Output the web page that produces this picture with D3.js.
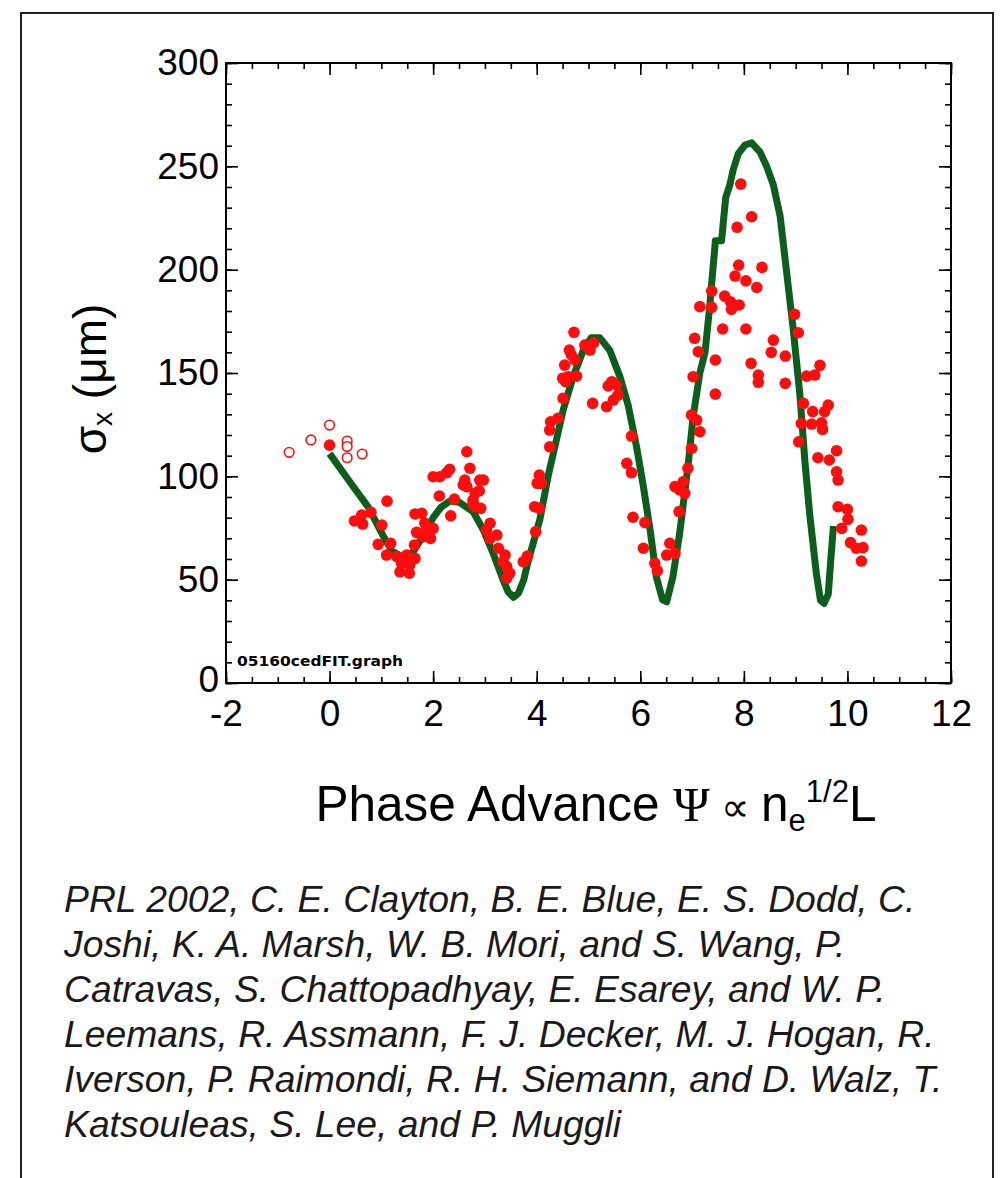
<!DOCTYPE html>
<html>
<head>
<meta charset="utf-8">
<script src="https://cdn.jsdelivr.net/npm/d3@7/dist/d3.min.js"></script>
<style>
  html, body { margin: 0; padding: 0; background: #fff; }
  svg { display: block; }
</style>
</head>
<body>
<script>
// Tick values
const xTicks = [-2, 0, 2, 4, 6, 8, 10, 12];
const yTicks = [0, 50, 100, 150, 200, 250, 300];

// Early shots drawn as open circles (Ψ, σx in µm)
const openPoints = [
  [-0.78, 111.6], [-0.36, 117.6], [0.0, 124.8], [0.34, 117.1],
  [0.34, 114.4], [0.34, 109.0], [0.63, 110.8]
];

// Measured spot size (Ψ, σx in µm)
const measuredPoints = [
  [0, 115.1], [2.65, 111.9], [1.11, 88.0], [0.80, 82.6], [0.62, 81.3], [0.48, 78.4],
  [0.64, 76.9], [1.01, 76.4], [0.94, 67.1], [1.18, 67.6], [1.10, 61.9], [1.30, 61.1],
  [1.49, 61.9], [1.65, 60.3], [1.39, 57.9], [1.55, 57.1], [1.36, 53.8], [1.54, 53.1],
  [1.65, 81.8], [1.78, 82.1], [1.68, 72.9], [1.84, 77.3], [1.87, 74.0], [2.0, 74.8],
  [1.81, 70.8], [1.95, 70.0], [1.64, 66.8], [2.0, 99.8], [2.13, 99.8], [2.26, 101.7],
  [2.32, 103.4], [2.12, 90.5], [2.41, 89.0], [2.34, 80.9], [2.61, 98.2], [2.65, 95.0],
  [2.71, 103.9], [2.81, 91.8], [2.77, 86.9], [2.90, 98.2], [2.58, 95.8], [2.97, 98.2],
  [2.89, 93.0], [2.77, 88.5], [2.81, 85.3], [2.92, 84.5], [3.10, 77.3], [3.03, 74.0],
  [3.23, 71.6], [3.10, 70.0], [3.26, 65.2], [3.39, 61.9], [3.35, 58.7], [3.42, 56.3],
  [3.48, 53.1], [3.42, 50.7], [3.74, 58.7], [3.82, 61.4], [3.98, 73.2], [3.96, 85.3],
  [4.05, 84.5], [4.05, 100.6], [4.01, 96.6], [4.09, 96.6], [4.25, 114.3], [4.25, 122.4],
  [4.27, 126.4], [4.41, 128.1], [4.51, 137.7], [4.50, 147.4], [4.56, 145.8], [4.61, 148.2],
  [4.77, 148.5], [4.54, 153.8], [4.63, 161.1], [4.67, 158.7], [4.74, 156.3], [4.72, 169.7],
  [4.93, 163.5], [5.03, 161.1], [5.10, 164.6], [5.08, 135.3], [5.35, 133.7], [5.45, 145.8],
  [5.38, 143.7], [5.54, 144.2], [5.57, 139.3], [5.48, 136.9], [5.83, 119.5], [5.74, 106.3],
  [5.83, 101.7], [5.86, 80.2], [6.09, 77.6], [6.06, 65.2], [6.28, 57.9], [6.33, 54.3],
  [6.57, 67.6], [6.51, 61.9], [6.67, 62.7], [6.75, 82.9], [6.67, 95.0], [6.83, 97.4],
  [6.86, 91.8], [6.76, 93.4], [6.92, 103.9], [6.99, 113.5], [6.99, 129.7], [7.02, 148.2],
  [7.05, 166.8], [7.12, 160.3], [7.09, 127.2], [7.15, 182.1], [7.15, 121.6],
  [7.94, 241.4], [8.15, 225.6], [7.87, 220.5], [7.90, 202.2], [8.35, 201.1], [7.83, 196.9],
  [8.04, 194.6], [8.25, 191.4], [7.38, 189.6], [7.63, 187.2], [7.74, 184.5], [7.91, 182.9],
  [7.76, 180.8], [7.38, 181.8], [8.98, 178.4], [7.59, 171.3], [8.04, 171.3], [9.05, 169.5],
  [8.57, 165.9], [8.53, 160.0], [7.45, 156.3], [8.80, 158.2], [8.14, 154.7], [8.28, 149.0],
  [8.28, 145.5], [8.80, 145.0], [9.47, 153.7], [9.21, 148.5], [9.37, 149.0], [7.45, 139.8],
  [9.15, 135.3], [9.33, 131.3], [9.63, 134.5], [9.56, 131.3], [9.11, 125.6], [9.31, 125.3],
  [9.50, 125.9], [9.52, 122.7], [9.06, 116.7], [9.43, 109.0], [9.65, 107.9], [9.79, 112.4],
  [9.79, 102.2], [9.82, 98.2], [9.82, 85.3], [10.00, 84.0], [10.01, 79.2], [9.89, 74.8],
  [10.27, 74.0], [10.06, 67.9], [10.30, 65.5], [10.17, 65.2], [10.27, 59.0]
];

// Envelope model fit (Ψ, σx in µm)
const fitCurve = [
  [0, 111], [0.4, 97], [0.75, 85], [1.04, 71], [1.2, 64], [1.4, 61], [1.6, 63], [1.8, 71],
  [2.0, 80], [2.15, 85], [2.32, 88], [2.5, 87.5], [2.77, 83], [2.97, 74], [3.16, 62.7],
  [3.35, 50], [3.45, 44], [3.55, 41.5], [3.65, 43.5], [3.75, 50], [3.84, 59.5], [4.06, 79],
  [4.22, 100], [4.38, 117.6], [4.51, 132], [4.70, 148], [4.90, 161], [5.05, 167], [5.22, 167],
  [5.41, 161], [5.61, 148], [5.77, 134], [5.93, 114], [6.06, 95], [6.19, 74], [6.31, 51.4],
  [6.43, 40.2], [6.51, 39.3], [6.63, 51.4], [6.76, 72.4], [6.92, 104.6], [7.02, 128.8],
  [7.15, 150], [7.25, 160], [7.34, 182], [7.44, 211], [7.45, 214], [7.57, 214], [7.60, 222],
  [7.65, 235], [7.73, 241], [7.79, 248], [7.89, 256], [8.02, 260.3], [8.15, 261.4],
  [8.31, 257], [8.44, 250], [8.57, 241], [8.70, 226], [8.82, 200], [8.95, 172], [9.08, 140],
  [9.18, 107], [9.27, 82], [9.40, 53], [9.48, 40], [9.55, 38.5], [9.63, 43], [9.68, 60],
  [9.73, 76]
];

const citationLines = [
  "PRL 2002, C. E. Clayton, B. E. Blue, E. S. Dodd, C.",
  "Joshi, K. A. Marsh, W. B. Mori, and S. Wang, P.",
  "Catravas, S. Chattopadhyay, E. Esarey, and W. P.",
  "Leemans, R. Assmann, F. J. Decker, M. J. Hogan, R.",
  "Iverson, P. Raimondi, R. H. Siemann, and D. Walz, T.",
  "Katsouleas, S. Lee, and P. Muggli"
];

const W = 1005, H = 1178;
const plot = { left: 226, right: 951, top: 63, bottom: 683 };
const red = "#ff0d0d", green = "#0b5e1b";

const svg = d3.select("body").append("svg").attr("width", W).attr("height", H);

// outer frame
svg.append("rect")
  .attr("x", 21).attr("y", 13).attr("width", 972).attr("height", H + 20)
  .attr("fill", "none").attr("stroke", "#222").attr("stroke-width", 2);

const x = d3.scaleLinear().domain([-2, 12]).range([plot.left, plot.right]);
const y = d3.scaleLinear().domain([0, 300]).range([plot.bottom, plot.top]);

const tickFont = "'Liberation Sans', Arial, sans-serif";

// axes with inward ticks on all four sides
function styleAxis(g) {
  g.select(".domain").remove();
  g.selectAll(".tick line").attr("stroke", "#000").attr("stroke-width", 1.6);
}
const minorX = d3.range(-2, 12.001, 0.5);
const minorY = d3.range(0, 300.001, 10);

svg.append("g").attr("transform", `translate(0,${plot.bottom})`)
  .call(d3.axisBottom(x).tickValues(minorX).tickSize(-6).tickFormat("")).call(styleAxis);
svg.append("g").attr("transform", `translate(0,${plot.top})`)
  .call(d3.axisTop(x).tickValues(minorX).tickSize(-6).tickFormat("")).call(styleAxis);
svg.append("g").attr("transform", `translate(${plot.left},0)`)
  .call(d3.axisLeft(y).tickValues(minorY).tickSize(-6).tickFormat("")).call(styleAxis);
svg.append("g").attr("transform", `translate(${plot.right},0)`)
  .call(d3.axisRight(y).tickValues(minorY).tickSize(-6).tickFormat("")).call(styleAxis);

const xAxis = svg.append("g").attr("transform", `translate(0,${plot.bottom})`)
  .call(d3.axisBottom(x).tickValues(xTicks).tickSize(-12).tickPadding(17).tickFormat(d3.format("d")))
  .call(styleAxis);
xAxis.selectAll("text").attr("font-family", tickFont).attr("font-size", 37).attr("fill", "#000")
  .text(d => String(d));
svg.append("g").attr("transform", `translate(0,${plot.top})`)
  .call(d3.axisTop(x).tickValues(xTicks).tickSize(-12).tickFormat("")).call(styleAxis);

const yAxis = svg.append("g").attr("transform", `translate(${plot.left},0)`)
  .call(d3.axisLeft(y).tickValues(yTicks).tickSize(-12).tickPadding(7))
  .call(styleAxis);
yAxis.selectAll("text").attr("font-family", tickFont).attr("font-size", 37).attr("fill", "#000")
  .attr("dy", d => d === 0 ? "0.22em" : "0.32em");
svg.append("g").attr("transform", `translate(${plot.right},0)`)
  .call(d3.axisRight(y).tickValues(yTicks).tickSize(-12).tickFormat("")).call(styleAxis);

// plot frame
svg.append("rect")
  .attr("x", plot.left).attr("y", plot.top)
  .attr("width", plot.right - plot.left).attr("height", plot.bottom - plot.top)
  .attr("fill", "none").attr("stroke", "#000").attr("stroke-width", 2);

// file tag
svg.append("text")
  .attr("x", plot.left + 11).attr("y", plot.bottom - 17)
  .attr("font-family", "'DejaVu Sans', sans-serif").attr("font-weight", "bold")
  .attr("font-size", 13.5).attr("textLength", 166).attr("lengthAdjust", "spacingAndGlyphs")
  .text("05160cedFIT.graph");

// fit curve
svg.append("path")
  .datum(fitCurve)
  .attr("d", d3.line().x(d => x(d[0])).y(d => y(d[1])).curve(d3.curveLinear))
  .attr("fill", "none").attr("stroke", green).attr("stroke-width", 7)
  .attr("stroke-linejoin", "round").attr("stroke-linecap", "butt");

// open points
svg.append("g").selectAll("circle").data(openPoints).join("circle")
  .attr("cx", d => x(d[0])).attr("cy", d => y(d[1])).attr("r", 4.8)
  .attr("fill", "#fff").attr("stroke", red).attr("stroke-width", 1.6);

// measured points
svg.append("g").selectAll("circle").data(measuredPoints).join("circle")
  .attr("cx", d => x(d[0])).attr("cy", d => y(d[1])).attr("r", 5.8)
  .attr("fill", red);

// y label
const yl = svg.append("text")
  .attr("transform", `translate(106,${(plot.top + plot.bottom) / 2 + 6}) rotate(-90)`)
  .attr("text-anchor", "middle")
  .attr("font-family", tickFont).attr("font-size", 46).attr("fill", "#000");
yl.append("tspan").text("σ");
yl.append("tspan").attr("font-size", 28).attr("dy", 6).text("x");
yl.append("tspan").attr("dy", -6).text(" (μm)");

// x label
const xl = svg.append("text")
  .attr("x", 596).attr("y", 821).attr("text-anchor", "middle")
  .attr("font-family", tickFont).attr("font-size", 49.5).attr("fill", "#000");
xl.append("tspan").text("Phase Advance ");
xl.append("tspan").attr("font-family", "'Liberation Serif', serif").text("Ψ");
xl.append("tspan").attr("font-size", 40).text(" ∝ ");
xl.append("tspan").text("n");
xl.append("tspan").attr("font-size", 31).attr("dy", 10).text("e");
xl.append("tspan").attr("font-size", 31).attr("dy", -29).text("1/2");
xl.append("tspan").attr("dy", 19).text("L");

// citation
svg.append("g").selectAll("text").data(citationLines).join("text")
  .attr("x", 64).attr("y", (d, i) => 912 + i * 45)
  .attr("font-family", tickFont).attr("font-style", "italic")
  .attr("font-size", 37.3).attr("fill", "#1a1a1a")
  .text(d => d);
</script>
</body>
</html>
